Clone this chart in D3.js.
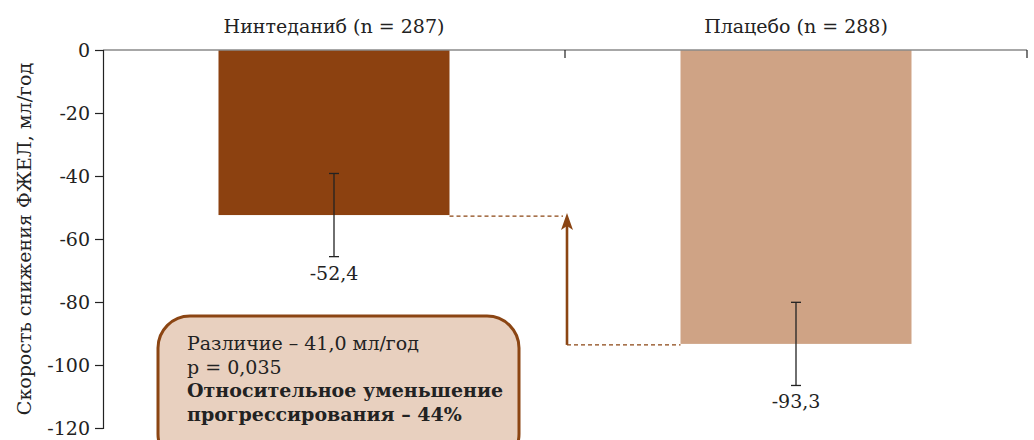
<!DOCTYPE html>
<html lang="ru">
<head>
    <meta charset="UTF-8">
    <title>Скорость снижения ФЖЕЛ</title>
    <script src="https://d3js.org/d3.v7.min.js"></script>
    <style>
        body { margin: 0; background: #fff; }
        svg { display: block; }
        svg text { font-family: "DejaVu Serif", serif !important; }
    </style>
</head>
<body>
    <div id="chart"></div>

    <script>
        // data
        const groups = ["Нинтеданиб (n = 287)", "Плацебо (n = 288)"];
        const rates = [-52.4, -93.3];
        const errors = [13.2, 13.2];
        const valueLabels = ["-52,4", "-93,3"];
        const barColors = ["#8c4110", "#cfa385"];
        const yTicks = [0, -20, -40, -60, -80, -100, -120];
        const noteLines = [
            { text: "Различие – 41,0 мл/год", bold: false },
            { text: "p = 0,035", bold: false },
            { text: "Относительное уменьшение", bold: true },
            { text: "прогрессирования – 44%", bold: true }
        ];

        const width = 1034, height = 440;
        const margin = { top: 50, right: 7, bottom: 12, left: 103 };
        const brown = "#8b4513";
        const fs = 19;

        const svg = d3.select("#chart").append("svg")
            .attr("width", width).attr("height", height);

        const x = d3.scaleBand().domain(groups)
            .range([margin.left, width - margin.right])
            .paddingInner(0.5).paddingOuter(0.25);
        const y = d3.scaleLinear().domain([0, -120])
            .range([margin.top, height - margin.bottom]);

        // bars
        svg.selectAll("rect.bar")
            .data(groups)
            .enter().append("rect")
            .attr("class", "bar")
            .attr("x", d => x(d))
            .attr("y", y(0))
            .attr("width", x.bandwidth())
            .attr("height", (d, i) => y(rates[i]) - y(0))
            .attr("fill", (d, i) => barColors[i]);

        // top (zero) line with group separators
        svg.append("line")
            .attr("x1", margin.left).attr("x2", width - margin.right)
            .attr("y1", y(0)).attr("y2", y(0))
            .attr("stroke", "#8a8a8a").attr("stroke-width", 1.6);
        const step = x.step();
        [x.range()[0] + step, x.range()[1]].forEach(px => {
            svg.append("line")
                .attr("x1", px).attr("x2", px)
                .attr("y1", y(0)).attr("y2", y(0) + 8)
                .attr("stroke", "#222").attr("stroke-width", 1.2);
        });

        // y axis
        const yAxis = svg.append("g")
            .attr("transform", `translate(${margin.left},0)`)
            .call(d3.axisLeft(y).tickValues(yTicks).tickSize(8).tickPadding(5)
                .tickFormat(d => d === 0 ? "0" : "-" + Math.abs(d)));
        yAxis.select(".domain").attr("stroke", "#222").attr("stroke-width", 1.2);
        yAxis.selectAll(".tick line").attr("stroke", "#222").attr("stroke-width", 1.2);
        yAxis.selectAll(".tick text")
            .attr("font-size", fs).attr("fill", "#222");

        svg.append("text")
            .attr("transform", `translate(31,${y(-60)}) rotate(-90)`)
            .attr("text-anchor", "middle")
            .attr("font-size", fs).attr("fill", "#222")
            .text("Скорость снижения ФЖЕЛ, мл/год");

        // group labels
        svg.selectAll("text.group")
            .data(groups)
            .enter().append("text")
            .attr("class", "group")
            .attr("x", d => x(d) + x.bandwidth() / 2)
            .attr("y", 33)
            .attr("text-anchor", "middle")
            .attr("font-size", fs).attr("fill", "#222")
            .text(d => d);

        // error bars
        const eb = svg.selectAll("g.err")
            .data(groups)
            .enter().append("g")
            .attr("class", "err")
            .attr("stroke", "#222").attr("stroke-width", 1.3);
        eb.append("line")
            .attr("x1", d => x(d) + x.bandwidth() / 2)
            .attr("x2", d => x(d) + x.bandwidth() / 2)
            .attr("y1", (d, i) => y(rates[i] + errors[i]))
            .attr("y2", (d, i) => y(rates[i] - errors[i]));
        [1, -1].forEach(s => {
            eb.append("line")
                .attr("x1", d => x(d) + x.bandwidth() / 2 - 5)
                .attr("x2", d => x(d) + x.bandwidth() / 2 + 5)
                .attr("y1", (d, i) => y(rates[i] + s * errors[i]))
                .attr("y2", (d, i) => y(rates[i] + s * errors[i]));
        });

        // value labels
        svg.selectAll("text.value")
            .data(groups)
            .enter().append("text")
            .attr("class", "value")
            .attr("x", d => x(d) + x.bandwidth() / 2)
            .attr("y", (d, i) => y(rates[i] - errors[i]) + 23)
            .attr("text-anchor", "middle")
            .attr("font-size", fs).attr("fill", "#222")
            .text((d, i) => valueLabels[i]);

        // difference arrow between the two bar ends
        const leftEnd = x(groups[0]) + x.bandwidth();
        const rightStart = x(groups[1]);
        const arrowX = (leftEnd + rightStart) / 2 + 2;

        svg.append("line")
            .attr("x1", leftEnd).attr("x2", arrowX - 4)
            .attr("y1", y(rates[0]) + 1).attr("y2", y(rates[0]) + 1)
            .attr("stroke", brown).attr("stroke-width", 1.2)
            .attr("stroke-dasharray", "4,3");
        svg.append("line")
            .attr("x1", arrowX).attr("x2", rightStart)
            .attr("y1", y(rates[1]) + 1).attr("y2", y(rates[1]) + 1)
            .attr("stroke", brown).attr("stroke-width", 1.2)
            .attr("stroke-dasharray", "4,3");
        svg.append("line")
            .attr("x1", arrowX).attr("x2", arrowX)
            .attr("y1", y(rates[1]) + 1).attr("y2", y(rates[0]) + 10)
            .attr("stroke", brown).attr("stroke-width", 2.6);
        svg.append("path")
            .attr("d", `M${arrowX},${y(rates[0]) - 2} L${arrowX - 6},${y(rates[0]) + 15} L${arrowX},${y(rates[0]) + 11} L${arrowX + 6},${y(rates[0]) + 15} Z`)
            .attr("fill", brown);

        // note box
        const box = svg.append("g").attr("transform", "translate(158,316)");
        box.append("rect")
            .attr("width", 361).attr("height", 150)
            .attr("rx", 32).attr("ry", 32)
            .attr("fill", "#e8d0bf")
            .attr("stroke", brown).attr("stroke-width", 3);
        box.selectAll("text")
            .data(noteLines)
            .enter().append("text")
            .attr("x", 29)
            .attr("y", (d, i) => 34 + i * 23.5)
            .attr("font-size", fs)
            .attr("font-weight", d => d.bold ? "bold" : "normal")
            .attr("fill", "#222")
            .text(d => d.text);
    </script>
</body>
</html>
